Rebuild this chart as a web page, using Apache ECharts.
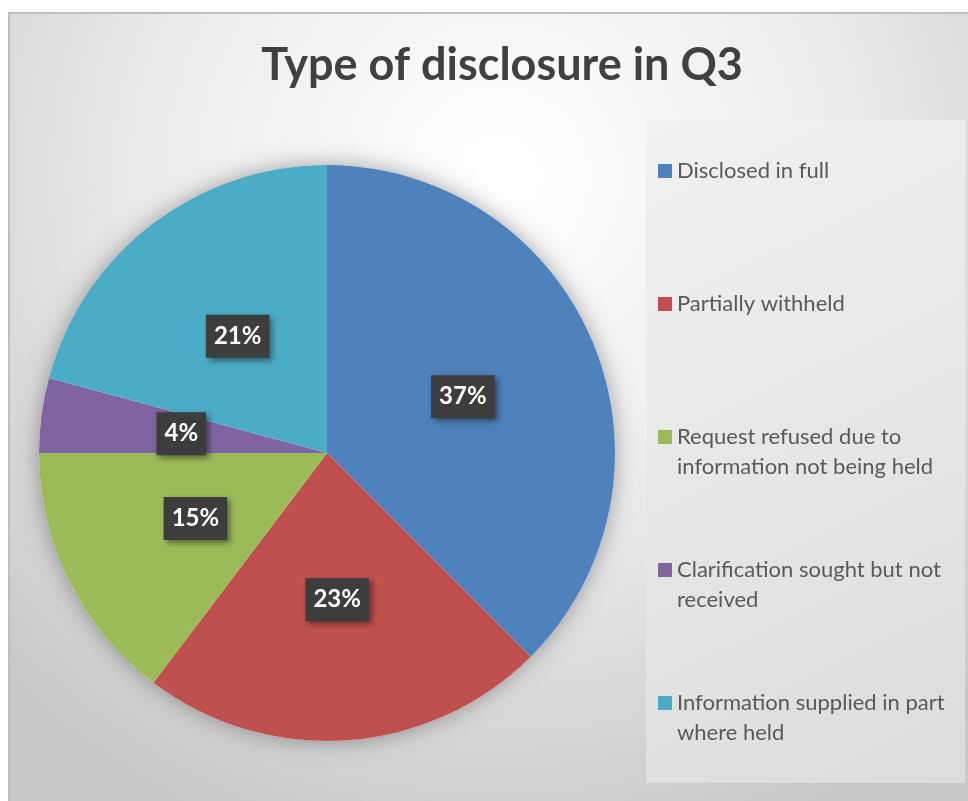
<!DOCTYPE html>
<html>
<head>
<meta charset="utf-8">
<script src="https://cdn.jsdelivr.net/npm/echarts@6/dist/echarts.min.js"></script>
<style>
  html, body { margin: 0; padding: 0; background: #ffffff; }
  #chart { width: 968px; height: 801px; }
</style>
</head>
<body>
<div id="chart"></div>
<script>
const titleText = 'Type of disclosure in Q3';
const categories = [
  'Disclosed in full',
  'Partially withheld',
  'Request refused due to information not being held',
  'Clarification sought but not received',
  'Information supplied in part where held'
];
const legendLines = [
  ['Disclosed in full'],
  ['Partially withheld'],
  ['Request refused due to', 'information not being held'],
  ['Clarification sought but not', 'received'],
  ['Information supplied in part', 'where held']
];
const values = [37.5, 22.8, 14.7, 4.2, 20.8];
const colors = ['#4F81BD', '#C0504D', '#9BBB59', '#8064A2', '#4BACC6'];

const FONT = 'Lato, "Open Sans", sans-serif';

function legendText(name) {
  const i = categories.indexOf(name);
  const lines = legendLines[i];
  if (lines.length === 1) return '\n' + lines[0] + '\n';
  return '\n' + lines.join('\n');
}

const chart = echarts.init(document.getElementById('chart'), null, { renderer: 'canvas' });
chart.setOption({
  animation: false,
  backgroundColor: '#ffffff',
  graphic: [
    {
      type: 'rect', z: -10, silent: true,
      shape: { x: 9, y: 13, width: 980, height: 820 },
      style: {
        fill: {
          type: 'radial', x: 0.5, y: 0.2, r: 0.85, global: false,
          colorStops: [
            { offset: 0, color: '#ffffff' },
            { offset: 0.45, color: '#eeeeee' },
            { offset: 1, color: '#c8c8c8' }
          ]
        },
        stroke: '#bfbfbf', lineWidth: 2
      }
    },
    {
      type: 'rect', z: -9, silent: true,
      shape: { x: 646, y: 120, width: 319, height: 663 },
      style: {
        fill: {
          type: 'linear', x: 0, y: 0, x2: 1, y2: 1,
          colorStops: [
            { offset: 0, color: '#f1f1f1' },
            { offset: 1, color: '#dcdcdc' }
          ]
        }
      }
    }
  ],
  title: {
    text: titleText,
    left: 497, top: 38, textAlign: 'center',
    textStyle: { fontFamily: FONT, fontWeight: 'bold', fontSize: 45, color: '#404040' }
  },
  legend: {
    orient: 'vertical',
    left: 658, top: 126,
    padding: 0,
    itemWidth: 14, itemHeight: 14, itemGap: 43,
    icon: 'rect',
    data: categories,
    formatter: legendText,
    textStyle: { fontFamily: FONT, fontSize: 22, color: '#595959', lineHeight: 30 }
  },
  series: [
    {
      type: 'pie',
      silent: true,
      center: [327, 453], radius: 288,
      z: 1,
      label: { show: false }, labelLine: { show: false },
      itemStyle: { color: '#ffffff', shadowBlur: 22, shadowColor: 'rgba(0,0,0,0.35)' },
      data: [{ value: 1, name: '_shadow' }],
      legendHoverLink: false
    },
    {
      type: 'pie',
      center: [327, 453], radius: 288,
      startAngle: 90, clockwise: true,
      z: 2,
      percentPrecision: 0,
      color: colors,
      itemStyle: { borderWidth: 0 },
      label: {
        show: true, position: 'inside',
        formatter: '{d}%',
        fontFamily: FONT, fontWeight: 'bold', fontSize: 24, color: '#ffffff',
        backgroundColor: '#3d3d3d',
        padding: [10, 8, 9, 8],
        shadowColor: 'rgba(0,0,0,0.45)', shadowBlur: 6, shadowOffsetX: 3, shadowOffsetY: 3
      },
      labelLine: { show: false },
      data: categories.map((c, i) => ({ name: c, value: values[i] }))
    }
  ]
});
</script>
</body>
</html>
